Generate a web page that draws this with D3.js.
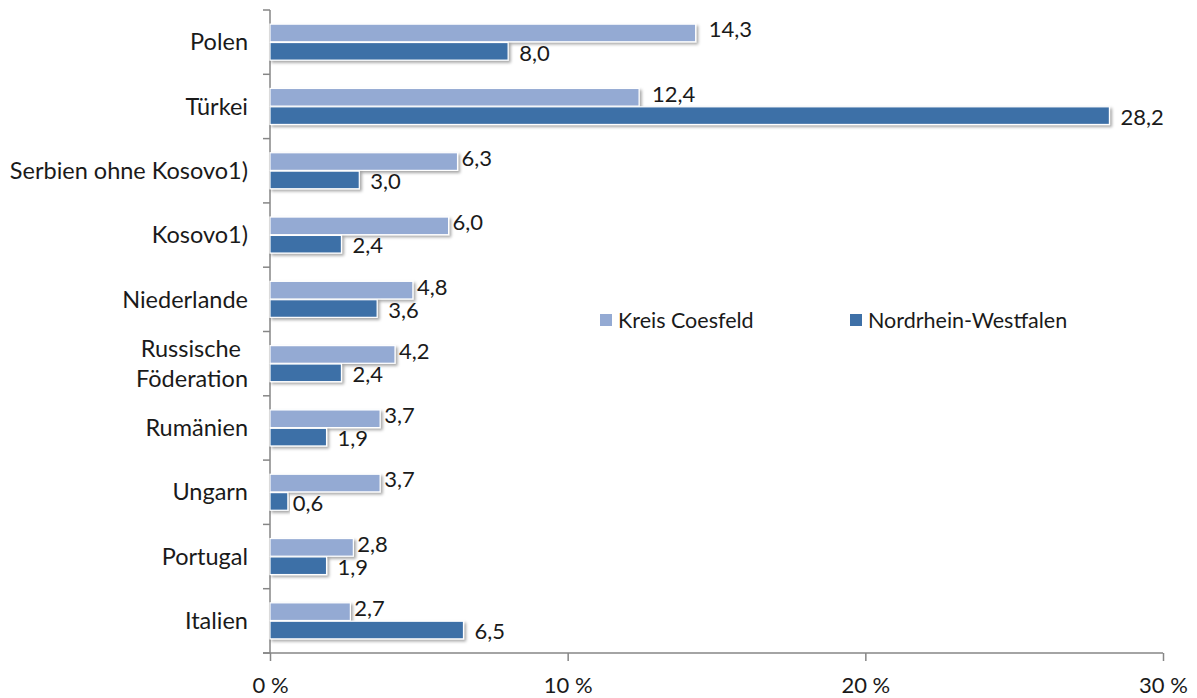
<!DOCTYPE html>
<html>
<head>
<meta charset="utf-8">
<script src="https://cdn.jsdelivr.net/npm/d3@7"></script>
<style>
  body { margin: 0; background: #fff; }
  text { font-family: Lato, "Open Sans", sans-serif; fill: #1a1a1a; }
</style>
</head>
<body>
<figure style="margin:0"></figure>
<script>

// Data
const categories = ["Polen", "Türkei", "Serbien ohne Kosovo1)", "Kosovo1)", "Niederlande",
  "Russische Föderation", "Rumänien", "Ungarn", "Portugal", "Italien"]
const seriesNames = ["Kreis Coesfeld", "Nordrhein-Westfalen"]
const kreisCoesfeld = [14.3, 12.4, 6.3, 6.0, 4.8, 4.2, 3.7, 3.7, 2.8, 2.7]
const nrw = [8.0, 28.2, 3.0, 2.4, 3.6, 2.4, 1.9, 0.6, 1.9, 6.5]
const xTicks = [0, 10, 20, 30]

const colors = ["#94aad3", "#3e70a7"]

// SVG setup
const svgWidth = 1197
const svgHeight = 698
const margin = { left: 270, right: 34, top: 10, bottom: 45 }
const width = svgWidth - margin.left - margin.right
const height = svgHeight - margin.top - margin.bottom

const svg = d3.select('figure')
  .append('svg')
  .attr('width', svgWidth)
  .attr('height', svgHeight)

const defs = svg.append('defs')
defs.append('filter')
  .attr('id', 'shadow')
  .attr('x', '-5%').attr('y', '-30%')
  .attr('width', '115%').attr('height', '180%')
  .append('feDropShadow')
  .attr('dx', 2).attr('dy', 2)
  .attr('stdDeviation', 1.5)
  .attr('flood-color', '#000')
  .attr('flood-opacity', 0.35)

const g = svg.append('g')
  .attr('transform', `translate(${margin.left},${margin.top})`)

// Scales
const x = d3.scaleLinear().domain([0, 30]).range([0, width])

const y = d3.scaleBand()
  .domain(categories)
  .range([0, height])
  .paddingInner(0.44)
  .paddingOuter(0.22)

const ySub = d3.scaleBand()
  .domain(seriesNames)
  .range([0, y.bandwidth()])
  .paddingInner(0.04)

const fmt = d3.formatLocale({ decimal: ",", thousands: ".", grouping: [3], currency: ["", "€"] }).format(".1f")

// Axes
const axisColor = "#868686"

// y axis line + ticks between categories
g.append('line')
  .attr('x1', 0).attr('x2', 0)
  .attr('y1', 0).attr('y2', height)
  .attr('stroke', axisColor).attr('stroke-width', 1.5)

const bounds = d3.range(categories.length + 1).map(i => i * height / categories.length)
g.selectAll('.ytick')
  .data(bounds)
  .enter().append('line')
  .attr('x1', -7).attr('x2', 0)
  .attr('y1', d => d).attr('y2', d => d)
  .attr('stroke', axisColor).attr('stroke-width', 1.5)

// x axis
const xAxis = g.append('g')
  .attr('transform', `translate(0,${height})`)
  .call(d3.axisBottom(x).tickValues(xTicks).tickSize(8).tickSizeOuter(0).tickFormat(d => d + " %"))
xAxis.select('.domain').remove()
xAxis.selectAll('.tick line').attr('stroke', axisColor).attr('stroke-width', 1.5)
xAxis.selectAll('.tick text')
  .attr('y', 24)
  .attr('dy', '0.71em')
  .style('font-size', '22px')
  .style('font-family', 'Lato, sans-serif')
  .attr('fill', '#1a1a1a')
g.append('line')
  .attr('x1', -7).attr('x2', width)
  .attr('y1', height).attr('y2', height)
  .attr('stroke', axisColor).attr('stroke-width', 1.5)

// Category labels
const catLabels = g.selectAll('.cat')
  .data(categories)
  .enter().append('text')
  .attr('class', 'cat')
  .attr('text-anchor', 'end')
  .style('font-size', '23.5px')
  .attr('transform', d => `translate(-22,${y(d) + y.bandwidth() / 2})`)

catLabels.each(function (d) {
  const t = d3.select(this)
  if (d === "Russische Föderation") {
    t.append('tspan').attr('x', -7).attr('dy', '-0.27em').text("Russische")
    t.append('tspan').attr('x', 0).attr('dy', '1.25em').text("Föderation")
  } else {
    t.append('tspan').attr('x', 0).attr('dy', '0.35em').text(d)
  }
})

// Bars
const series = [kreisCoesfeld, nrw]
const barData = []
categories.forEach((c, i) => {
  seriesNames.forEach((s, j) => {
    barData.push({ cat: c, name: s, value: series[j][i], idx: j })
  })
})

g.append('g')
  .selectAll('rect')
  .data(barData)
  .enter().append('rect')
  .attr('x', 0)
  .attr('y', d => y(d.cat) + ySub(d.name))
  .attr('width', d => x(d.value))
  .attr('height', ySub.bandwidth())
  .attr('fill', d => colors[d.idx])
  .attr('stroke', '#fff')
  .attr('stroke-width', 1.2)
  .attr('filter', 'url(#shadow)')

// label gap: short light bars get labels tucked close to the bar end
function labelGap(d) {
  if (d.idx === 0) return d.value >= 10 ? 13 : 4
  return d.value < 1 ? 5 : 11
}

g.append('g')
  .selectAll('text')
  .data(barData)
  .enter().append('text')
  .attr('x', d => x(d.value) + labelGap(d))
  .attr('y', d => y(d.cat) + ySub(d.name) + ySub.bandwidth() / 2)
  .attr('dy', d => d.idx === 0 ? '0.2em' : '0.42em')
  .style('font-size', '22px')
  .text(d => fmt(d.value))

// Legend
const legendX = [330, 580]
const legend = g.selectAll('.legend')
  .data(seriesNames)
  .enter().append('g')
  .attr('transform', (d, i) => `translate(${legendX[i]},${310})`)

legend.append('rect')
  .attr('x', 0).attr('y', -6)
  .attr('width', 12).attr('height', 12)
  .attr('fill', (d, i) => colors[i])

legend.append('text')
  .attr('x', 18)
  .attr('dy', '0.35em')
  .style('font-size', '21.5px')
  .text(d => d)

</script>
</body>
</html>
